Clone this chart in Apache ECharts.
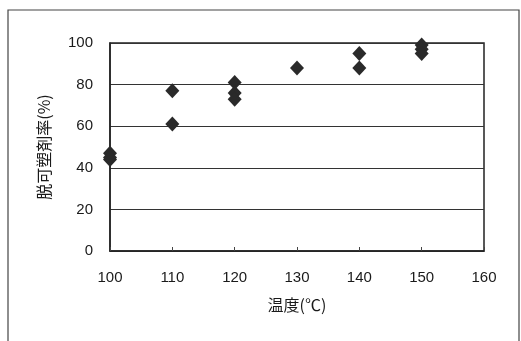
<!DOCTYPE html>
<html><head><meta charset="utf-8">
<script src="https://cdn.jsdelivr.net/npm/echarts@6/dist/echarts.min.js"></script>
<style>html,body{margin:0;padding:0;background:#fff}#c{width:521px;height:341px}</style>
</head><body><div id="c"></div>
<script>
const temperatures = [100,100,100,110,110,120,120,120,130,140,140,150,150,150];
const removalRates = [47,44,45,77,61,81,76,73,88,95,88,99,97,95];
const xTicks = {min:100,max:160,interval:10};
const yTicks = {min:0,max:100,interval:20};
const xTitle = '温度(℃)';
const yTitle = '脱可塑剤率(%)';

const chart = echarts.init(document.getElementById('c'));
const font = 'Liberation Sans, Arial, sans-serif';
chart.setOption({
  animation:false,
  backgroundColor:'#fff',
  graphic:[{type:'rect',shape:{x:8,y:10,width:511,height:340},style:{fill:'none',stroke:'#444',lineWidth:1.2}}],
  grid:{left:110,top:43,width:374,height:208,show:true,borderColor:'#222',borderWidth:1.5,backgroundColor:'#fff'},
  xAxis:{type:'value',min:xTicks.min,max:xTicks.max,interval:xTicks.interval,
    name:xTitle,nameLocation:'middle',nameGap:46,nameTextStyle:{fontSize:16,color:'#1a1a1a',fontFamily:'Noto Sans CJK JP'},
    axisLine:{show:true,lineStyle:{color:'#222',width:1.5}},
    axisTick:{show:true,inside:true,length:4,lineStyle:{color:'#444'}},
    axisLabel:{fontSize:15,color:'#1a1a1a',margin:19,fontFamily:font},
    splitLine:{show:false}},
  yAxis:{type:'value',min:yTicks.min,max:yTicks.max,interval:yTicks.interval,
    name:yTitle,nameLocation:'middle',nameGap:58,nameRotate:90,nameTextStyle:{fontSize:16,color:'#1a1a1a',fontFamily:'Noto Sans CJK JP'},
    axisLine:{show:true,lineStyle:{color:'#222',width:1.5}},
    axisTick:{show:false},
    axisLabel:{fontSize:15,color:'#1a1a1a',margin:17,fontFamily:font},
    splitLine:{show:true,lineStyle:{color:'#333',width:1}}},
  series:[{type:'scatter',symbol:'diamond',symbolSize:[14,15],
    itemStyle:{color:'#2a2a2a',opacity:1},
    data:temperatures.map((t,i)=>[t,removalRates[i]])}]
});
</script></body></html>
